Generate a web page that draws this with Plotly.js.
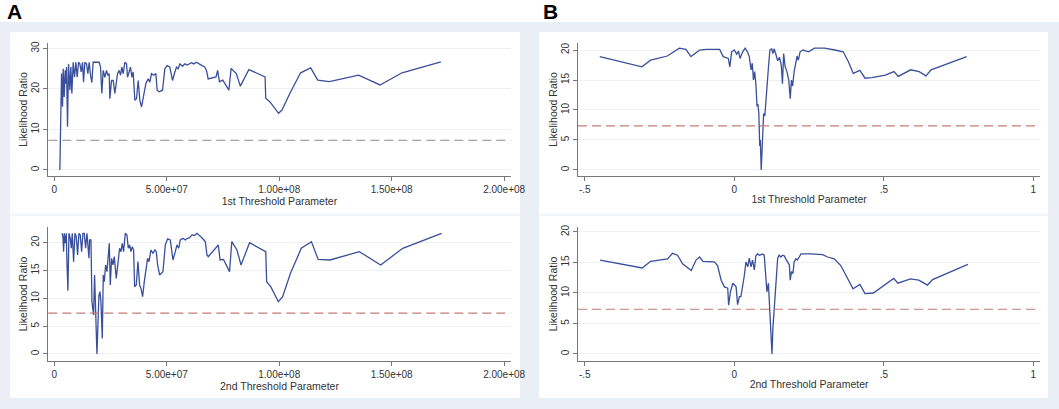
<!DOCTYPE html>
<html>
<head>
<meta charset="utf-8">
<script src="https://cdn.plot.ly/plotly-3.0.1.min.js"></script>
<style>
html,body{margin:0;padding:0;background:#fff;}
#plot{width:1059px;height:409px;}
</style>
</head>
<body>
<div id="plot"></div>
<script>
// Panel A, upper: 1st threshold parameter (levels) vs likelihood ratio
const a1x = [2.45e6,2.74e6,3.19e6,3.63e6,3.93e6,4.37e6,4.82e6,5.11e6,5.41e6,5.85e6,
	6.30e6,6.89e6,7.34e6,7.78e6,8.37e6,8.97e6,9.56e6,10.15e6,10.75e6,11.34e6,
	11.93e6,12.52e6,12.97e6,13.56e6,14.30e6,14.89e6,15.49e6,16.08e6,16.67e6,17.26e6,
	19.93e6,20.53e6,21.12e6,21.71e6,22.45e6,23.19e6,23.79e6,24.38e6,24.68e6,25.42e6,
	26.16e6,26.90e6,27.64e6,28.08e6,28.83e6,29.42e6,30.01e6,30.60e6,31.34e6,32.09e6,
	32.53e6,33.27e6,33.86e6,34.46e6,35.05e6,35.79e6,36.53e6,37.27e6,38.01e6,38.76e6,
	39.49e6,40.68e6,41.72e6,42.46e6,43.20e6,44.24e6,45.13e6,45.72e6,46.61e6,48.09e6,
	49.13e6,50.16e6,51.35e6,52.54e6,53.57e6,54.32e6,55.06e6,55.80e6,56.98e6,58.02e6,
	59.06e6,59.95e6,60.99e6,62.02e6,63.21e6,64.39e6,65.43e6,66.91e6,67.65e6,68.39e6,
	71.9e6,72.6e6,73.4e6,74.9e6,77.6e6,78.6e6,80.9e6,82.7e6,86.5e6,89.9e6,
	93.7e6,94.0e6,95.9e6,99.7e6,101.2e6,104.7e6,109.5e6,114.0e6,117.1e6,122.3e6,
	135.3e6,144.8e6,154.6e6,171.9e6];
const a1y = [0,12.7,23.8,15.6,25.0,18.0,24.6,21.3,25.4,10.7,
	26.2,19.7,25.4,18.9,26.6,22.9,26.6,22.9,26.6,26.2,
	24.2,26.6,21.7,26.6,26.2,23.8,26.6,23.4,21.6,26.6,
	26.6,25.4,18.9,24.6,22.9,24.6,23.4,23.8,17.6,22.1,
	22.1,18.9,22.1,23.8,24.6,23.4,25.4,23.8,26.6,26.2,
	22.9,24.2,25.4,22.9,24.2,17.2,17.6,22.1,17.2,15.6,
	18.0,21.3,22.5,21.7,23.8,23.4,23.8,19.7,19.3,19.7,
	25.0,25.8,25.4,22.1,24.2,25.4,25.0,26.2,25.6,26.2,
	25.9,26.2,26.5,26.2,26.6,26.2,25.8,25.4,24.6,22.5,
	23.0,24.6,21.8,22.2,19.7,25.1,23.8,20.7,24.8,24.0,
	23.0,17.7,16.8,14.0,14.8,18.9,24.0,25.2,22.2,21.8,
	23.4,21.0,24.0,26.7];

// Panel A, lower: 2nd threshold parameter (levels)
const a2x = [3.37e6,3.81e6,4.11e6,4.40e6,4.85e6,5.29e6,5.59e6,6.03e6,6.48e6,7.07e6,
	7.52e6,7.96e6,8.55e6,9.15e6,9.74e6,10.33e6,10.93e6,11.52e6,12.11e6,12.71e6,
	13.30e6,13.89e6,14.49e6,14.93e6,15.38e6,15.67e6,16.27e6,16.71e6,17.16e6,17.45e6,
	17.89e6,18.34e6,18.93e6,19.38e6,19.82e6,20.27e6,20.71e6,21.31e6,21.75e6,22.20e6,
	22.79e6,23.38e6,23.83e6,24.42e6,24.86e6,25.46e6,26.05e6,26.64e6,27.53e6,28.42e6,
	29.01e6,29.61e6,30.20e6,30.79e6,31.54e6,32.28e6,32.87e6,33.46e6,34.06e6,34.65e6,
	35.24e6,35.69e6,36.43e6,37.17e6,37.91e6,38.51e6,39.25e6,39.99e6,40.88e6,41.47e6,
	42.07e6,42.95e6,43.84e6,44.73e6,45.33e6,45.92e6,46.81e6,48.29e6,49.33e6,50.36e6,
	51.55e6,52.74e6,53.78e6,54.52e6,55.26e6,56.00e6,57.19e6,58.22e6,59.26e6,60.15e6,
	61.19e6,62.23e6,63.41e6,64.60e6,65.64e6,67.12e6,67.86e6,68.45e6,
	72.9e6,73.7e6,75.2e6,77.9e6,78.9e6,81.2e6,83.0e6,86.8e6,90.2e6,94.0e6,
	94.4e6,96.2e6,99.6e6,101.5e6,105.0e6,109.8e6,114.3e6,117.3e6,122.6e6,135.6e6,
	145.1e6,154.9e6,172.2e6];
const a2y = [21.7,21.1,18.4,21.7,19.9,21.7,16.6,11.35,21.7,20.8,
	19.0,21.7,16.6,21.7,21.1,17.8,21.7,21.4,18.4,21.7,
	21.7,19.0,21.7,19.6,17.2,20.5,20.5,9.4,8.2,7.0,
	14.2,7.0,0,5.2,10.6,11.2,9.4,2.8,14.2,13.0,
	16.0,14.8,17.2,19.9,12.4,17.2,16.0,17.5,13.6,17.2,
	19.0,18.4,19.9,18.4,21.7,21.4,19.0,19.6,18.4,19.3,
	18.7,12.1,12.4,16.6,12.4,11.8,10.3,13.0,16.0,17.2,
	16.6,18.7,18.1,18.7,18.4,16.0,14.2,14.8,19.6,20.7,
	20.5,16.9,18.4,19.6,19.0,20.5,20.8,20.5,20.8,20.9,
	21.4,21.3,21.7,21.3,20.9,20.2,17.8,17.5,
	19.6,16.9,17.0,14.8,20.2,18.7,16.0,20.0,19.3,18.4,
	13.0,12.1,9.4,10.3,14.5,19.0,20.2,17.0,16.9,18.4,
	16.0,19.0,21.7];

// Panel B, upper: 1st threshold parameter (growth)
const b1x = [-0.450,-0.309,-0.280,-0.224,-0.184,-0.162,-0.145,-0.116,-0.094,-0.049,
	-0.037,-0.020,-0.015,-0.009,0.000,0.008,0.014,0.019,0.028,0.036,
	0.044,0.050,0.056,0.060,0.064,0.068,0.072,0.076,0.079,0.082,
	0.085,0.087,0.090,0.092,0.095,0.098,0.102,0.105,0.109,0.114,
	0.119,0.125,0.129,0.133,0.139,0.145,0.151,0.157,0.161,0.165,
	0.170,0.176,0.182,0.187,0.191,0.195,0.200,0.205,0.210,0.214,
	0.220,0.230,0.248,0.268,0.302,0.336,0.364,0.381,0.398,0.420,
	0.437,0.460,0.505,0.534,0.548,0.590,0.618,0.641,0.658,0.777];
const b1y = [18.9,17.2,18.3,19.0,20.3,20.1,18.9,20.0,20.1,20.1,
	18.9,18.6,17.2,19.7,20.0,19.3,19.8,18.6,19.7,20.3,
	19.7,18.9,16.7,17.8,15.0,16.4,14.4,10.6,11.0,9.4,
	4.0,5.0,0,2.5,5.0,9.4,9.0,11.5,13.3,17.0,
	20.0,20.2,19.4,20.2,19.3,18.2,18.8,17.5,14.4,19.4,
	17.2,16.4,15.0,11.9,15.0,14.0,16.4,18.1,19.0,18.3,
	19.7,20.0,19.7,20.3,20.3,20.0,19.7,18.1,16.1,16.6,
	15.3,15.4,15.8,16.4,15.6,16.7,16.4,15.7,16.7,18.9];

// Panel B, lower: 2nd threshold parameter (growth)
const b2x = [-0.449,-0.308,-0.280,-0.223,-0.207,-0.190,-0.173,-0.144,-0.128,-0.116,
	-0.105,-0.067,-0.056,-0.044,-0.033,-0.022,-0.019,-0.013,-0.005,0.000,
	0.006,0.011,0.017,0.022,0.028,0.033,0.039,0.045,0.050,0.056,
	0.061,0.067,0.072,0.078,0.084,0.095,0.100,0.106,0.109,0.114,
	0.117,0.120,0.124,0.126,0.129,0.132,0.136,0.140,0.145,0.150,
	0.156,0.161,0.167,0.172,0.178,0.184,0.187,0.191,0.196,0.200,
	0.206,0.211,0.217,0.223,0.256,0.295,0.312,0.334,0.356,0.373,
	0.390,0.397,0.420,0.437,0.465,0.493,0.533,0.547,0.589,0.617,
	0.646,0.663,0.781];
const b2y = [15.4,14.1,15.2,15.6,16.5,16.2,14.8,13.7,15.4,15.9,
	15.2,15.1,14.5,12.1,11.0,10.8,8.0,10.2,11.6,11.3,
	11.0,8.1,9.4,9.4,11.0,12.7,15.1,14.3,15.7,14.3,
	15.4,13.8,16.1,16.4,16.2,16.4,16.2,11.7,10.2,11.6,
	8.6,6.9,3.7,0,4.2,6.4,9.1,12.9,15.7,16.2,
	15.9,16.2,16.1,15.6,15.1,14.6,12.1,13.5,13.2,15.1,
	15.6,15.4,15.9,16.4,16.4,16.3,15.9,15.6,14.5,12.9,
	11.2,10.7,11.4,9.9,10.0,11.0,12.4,11.6,12.3,12.1,
	11.3,12.2,14.7];

// critical value of the LR test (dashed line)
const critValue = 7.34;

// tick labels
const aTicks = [0, 5e7, 1e8, 1.5e8, 2e8];
const aTickText = ['0', '5.00e+07', '1.00e+08', '1.50e+08', '2.00e+08'];
const bTicks = [-0.5, 0, 0.5, 1];
const bTickText = ['-.5', '0', '.5', '1'];
const yTicksA1 = [0, 10, 20, 30];
const yTicks = [0, 5, 10, 15, 20];

const fontFam = 'Liberation Sans, Arial, Helvetica, sans-serif';
const lineColor = '#3a4f9c';

function xAxis(dom, rng, vals, text, title, anchor) {
	return {
		domain: dom, range: rng, anchor: anchor,
		tickmode: 'array', tickvals: vals, ticktext: text,
		ticks: 'outside', ticklen: 4, tickcolor: '#777', tickwidth: 1,
		showline: true, linecolor: '#777', linewidth: 1,
		showgrid: false, zeroline: false,
		tickfont: {size: 10, color: '#333', family: fontFam},
		title: {text: title, font: {size: 10.5, color: '#333', family: fontFam}, standoff: 1},
		automargin: false, fixedrange: true
	};
}

function yAxis(dom, rng, vals, anchor) {
	return {
		domain: dom, range: rng, anchor: anchor,
		tickmode: 'array', tickvals: vals, tickangle: -90,
		ticks: 'outside', ticklen: 4, tickcolor: '#777', tickwidth: 1,
		showline: true, linecolor: '#777', linewidth: 1,
		showgrid: true, gridcolor: '#eef1f4', gridwidth: 1, zeroline: false,
		tickfont: {size: 10, color: '#333', family: fontFam},
		title: {text: 'Likelihood Ratio', font: {size: 10.5, color: '#333', family: fontFam}, standoff: 0},
		automargin: false, fixedrange: true
	};
}

function lrTrace(x, y, xa, ya) {
	return {x: x, y: y, xaxis: xa, yaxis: ya, type: 'scatter', mode: 'lines',
		line: {color: lineColor, width: 1.3}, hoverinfo: 'skip', showlegend: false};
}

function critLine(xa, ya, color) {
	return {type: 'line', xref: xa + ' domain', yref: ya, x0: 0, x1: 1, y0: critValue, y1: critValue,
		line: {color: color, width: 1.2, dash: '9px,5px'}};
}

function box(x0, x1, y0, y1, color) {
	return {type: 'rect', xref: 'paper', yref: 'paper', x0: x0, x1: x1, y0: y0, y1: y1,
		fillcolor: color, line: {width: 0}, layer: 'below'};
}

const traces = [
	lrTrace(a1x, a1y, 'x', 'y'),
	lrTrace(a2x, a2y, 'x2', 'y2'),
	lrTrace(b1x, b1y, 'x3', 'y3'),
	lrTrace(b2x, b2y, 'x4', 'y4')
];

const domXA = [0.0456, 0.4822];
const domXB = [0.5458, 0.9822];
const domYTop = [0.5697, 0.8949];
const domYBot = [0.1174, 0.4450];

const layout = {
	width: 1059, height: 409,
	margin: {l: 0, r: 0, t: 0, b: 0},
	paper_bgcolor: '#ffffff', plot_bgcolor: 'rgba(0,0,0,0)',
	font: {family: fontFam, color: '#333'},
	showlegend: false,
	xaxis: xAxis(domXA, [-2.7e6, 2.029e8], aTicks, aTickText, '1st Threshold Parameter', 'y'),
	yaxis: yAxis(domYTop, [-1.48, 31.36], yTicksA1, 'x'),
	xaxis2: xAxis(domXA, [-2.7e6, 2.029e8], aTicks, aTickText, '2nd Threshold Parameter', 'y2'),
	yaxis2: yAxis(domYBot, [-1.26, 22.83], yTicks, 'x2'),
	xaxis3: xAxis(domXB, [-0.5227, 1.0227], bTicks, bTickText, '1st Threshold Parameter', 'y3'),
	yaxis3: yAxis(domYTop, [-1, 21.17], yTicks, 'x3'),
	xaxis4: xAxis(domXB, [-0.5227, 1.0227], bTicks, bTickText, '2nd Threshold Parameter', 'y4'),
	yaxis4: yAxis(domYBot, [-1.146, 20.82], yTicks, 'x4'),
	shapes: [
		// light blue graph region and white inner regions
		box(0, 1, 0, 0.9462, '#e9eff4'),
		box(0.0094, 0.4910, 0.0269, 0.9218, '#ffffff'),
		box(0.5090, 0.9896, 0.0269, 0.9218, '#ffffff'),
		box(0.0094, 0.4910, 0.4719, 0.4780, '#f3f6f9'),
		box(0.5090, 0.9896, 0.4719, 0.4780, '#f3f6f9'),
		critLine('x', 'y', '#8d8892'),
		critLine('x2', 'y2', '#c47c7a'),
		critLine('x3', 'y3', '#c47c7a'),
		critLine('x4', 'y4', '#c47c7a')
	],
	annotations: [
		{text: '<b>A</b>', xref: 'paper', yref: 'paper', x: 0.005, y: 0.973, xanchor: 'left', yanchor: 'middle',
			showarrow: false, font: {size: 21, color: '#000', family: fontFam}},
		{text: '<b>B</b>', xref: 'paper', yref: 'paper', x: 0.511, y: 0.973, xanchor: 'left', yanchor: 'middle',
			showarrow: false, font: {size: 21, color: '#000', family: fontFam}}
	]
};

Plotly.newPlot('plot', traces, layout, {staticPlot: true, displayModeBar: false});
</script>
</body>
</html>
